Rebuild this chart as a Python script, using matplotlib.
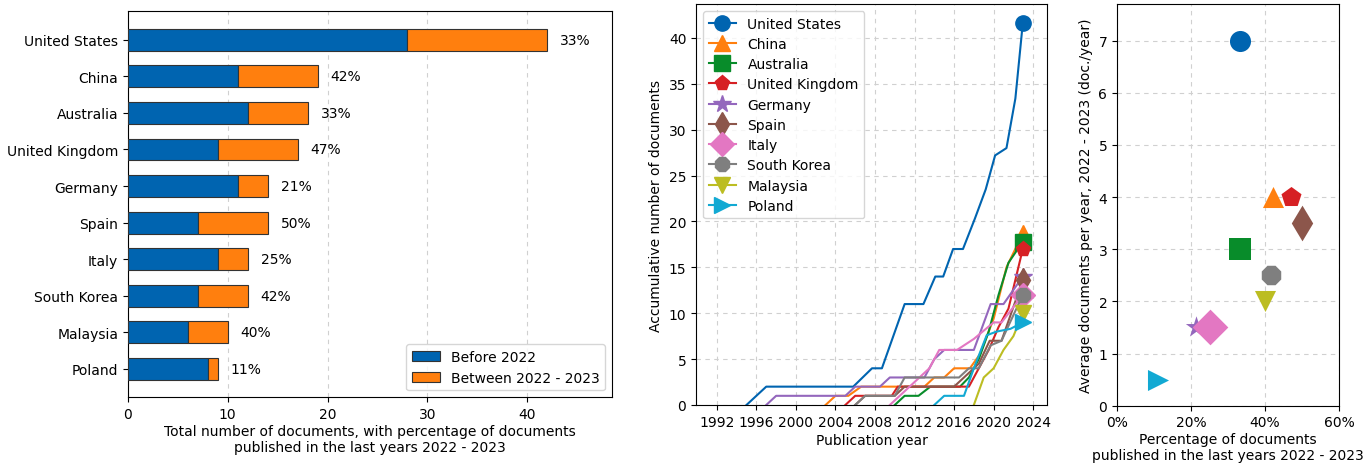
import matplotlib
matplotlib.use("Agg")
import matplotlib.pyplot as plt
from matplotlib.ticker import PercentFormatter

plt.rcParams['font.family'] = ['DejaVu Sans']
plt.rcParams['font.size'] = 10

# ---------------- data ----------------
countries = ["United States", "China", "Australia", "United Kingdom", "Germany",
             "Spain", "Italy", "South Korea", "Malaysia", "Poland"]
before_2022 = [28, 11, 12, 9, 11, 7, 9, 7, 6, 8]
between_2022_2023 = [14, 8, 6, 8, 3, 7, 3, 5, 4, 1]

colors = ["#0064b0", "#ff7f0e", "#088c2a", "#d62024", "#9467bd",
          "#8c564b", "#e377c2", "#7f7f7f", "#bcbd22", "#12a9d3"]
markers = ["o", "^", "s", "p", "*", "d", "D", "8", "v", ">"]

# accumulative documents per country
us_years = [1995, 1997, 2005.8, 2007.7, 2008.7, 2011.0, 2012.9, 2014.1, 2014.9, 2015.9, 2016.9, 2018.1, 2019.2, 2020.15, 2021.3, 2022.2, 2022.95]
us_cum = [0, 2, 2, 4, 4, 11, 11, 14, 14, 17, 17, 20.3, 23.5, 27.2, 28, 33.4, 41.6]
cn_years = [2003, 2004, 2005.3, 2006.6, 2013, 2014, 2015, 2016, 2017.6, 2018.6, 2020, 2021.3, 2022.95]
cn_cum = [0, 1, 1, 2, 2, 3, 3, 4, 4, 5.5, 9.4, 15, 18.7]
au_years = [2010, 2011, 2012.4, 2013.6, 2016.6, 2017.5, 2018.5, 2019.5, 2020.5, 2021.5, 2022.95]
au_cum = [0, 1, 1, 2, 2, 3, 5, 8, 12, 15.5, 17.8]
uk_years = [2005, 2006, 2009.7, 2010.3, 2017.5, 2018.5, 2019.5, 2020.5, 2021.5, 2022.95]
uk_cum = [0, 1, 1, 2, 2, 4, 6, 8.5, 10.5, 17]
de_years = [1997, 1998, 2005, 2006, 2008.5, 2009.5, 2013, 2014, 2015, 2018, 2019.7, 2021, 2022.95]
de_cum = [0, 1, 1, 2, 2, 3, 3, 5, 6, 6, 11, 11, 14]
es_years = [2006, 2007, 2010, 2011, 2016, 2017, 2018.5, 2019.6, 2020.8, 2022.95]
es_cum = [0, 1, 1, 2, 2, 3, 4.5, 7, 7, 13.6]
it_years = [2009.5, 2010.5, 2011.5, 2012.5, 2013.5, 2014.5, 2016.3, 2018, 2020, 2020.8, 2022.95]
it_cum = [0, 1, 2, 3, 4, 6, 6, 7.2, 9, 9, 12]
kr_years = [2006, 2007, 2010, 2011, 2016.5, 2017.5, 2018.5, 2019.7, 2020.8, 2022.95]
kr_cum = [0, 1, 1, 3, 3, 4, 4, 6.5, 7, 12]
my_years = [2018, 2019, 2020, 2021, 2022, 2022.95]
my_cum = [0, 3, 4, 6, 7.5, 10]
pl_years = [2014, 2015, 2017, 2018, 2019.3, 2020.3, 2021.7, 2022.95]
pl_cum = [0, 1, 1, 4, 7.6, 8, 8.3, 9]

series_years = [us_years, cn_years, au_years, uk_years, de_years,
                es_years, it_years, kr_years, my_years, pl_years]
series_cum = [us_cum, cn_cum, au_cum, uk_cum, de_cum,
              es_cum, it_cum, kr_cum, my_cum, pl_cum]

year_ticks = list(range(1992, 2025, 4))

# ---------------- figure ----------------
fig = plt.figure(figsize=(13.64, 4.64), dpi=100)

grid_kw = dict(linestyle=(0, (4, 4)), color="#d0d0d0", linewidth=0.8)

# ---- left: stacked horizontal bars ----
ax1 = fig.add_axes([0.0938, 0.1416, 0.3548, 0.8319])
ypos = list(range(len(countries)))
totals = [b + n for b, n in zip(before_2022, between_2022_2023)]
ax1.barh(ypos, before_2022, height=0.6, color=colors[0], edgecolor="#333333",
         linewidth=0.8, label="Before 2022", zorder=3)
ax1.barh(ypos, between_2022_2023, left=before_2022, height=0.6, color=colors[1],
         edgecolor="#333333", linewidth=0.8, label="Between 2022 - 2023", zorder=3)
for y, t, n in zip(ypos, totals, between_2022_2023):
    ax1.text(t + 1.3, y, f"{round(100 * n / t)}%", va="center", ha="left", fontsize=10)
ax1.set_yticks(ypos)
ax1.set_yticklabels(countries)
ax1.invert_yaxis()
ax1.set_xlim(0, 48.5)
ax1.set_xticks([0, 10, 20, 30, 40])
ax1.grid(axis="x", **grid_kw)
ax1.set_axisbelow(True)
ax1.set_xlabel("Total number of documents, with percentage of documents\npublished in the last years 2022 - 2023",
               labelpad=2)
ax1.legend(loc="lower right", fontsize=10)

# ---- middle: accumulative lines ----
ax2 = fig.add_axes([0.5103, 0.125, 0.2573, 0.8642])
for name, yrs, cum, c, m in zip(countries, series_years, series_cum, colors, markers):
    ms = 12 if m in ("D", "d") else (13 if m == "*" else 11)
    ax2.plot(yrs, cum, color=c, linewidth=1.5, marker=m, markevery=[-1],
             markersize=ms, label=name, solid_joinstyle="round")
ax2.set_xlim(1989.9, 2025.4)
ax2.set_ylim(0, 43.7)
ax2.set_xticks(year_ticks)
ax2.set_yticks(range(0, 41, 5))
ax2.grid(True, **grid_kw)
ax2.set_axisbelow(True)
ax2.set_xlabel("Publication year", labelpad=3)
ax2.set_ylabel("Accumulative number of documents")
ax2.legend(loc="upper left", fontsize=10, labelspacing=0.45)

# ---- right: scatter ----
ax3 = fig.add_axes([0.8189, 0.1235, 0.1628, 0.8657])
for b, n, c, m in zip(before_2022, between_2022_2023, colors, markers):
    t = b + n
    s = 330 if m in ("D", "d") else (260 if m == "*" else 230)
    ax3.scatter(n / t, n / 2, s=s, color=c, marker=m, zorder=3, linewidths=0)
ax3.set_xlim(0, 0.6)
ax3.set_ylim(0, 7.7)
ax3.set_xticks([0, 0.2, 0.4, 0.6])
ax3.xaxis.set_major_formatter(PercentFormatter(1.0, decimals=0))
ax3.grid(True, **grid_kw)
ax3.set_axisbelow(True)
ax3.set_xlabel("Percentage of documents\npublished in the last years 2022 - 2023", labelpad=2)
ax3.set_ylabel("Average documents per year, 2022 - 2023 (doc./year)")

fig.savefig("out.png", dpi=100)
